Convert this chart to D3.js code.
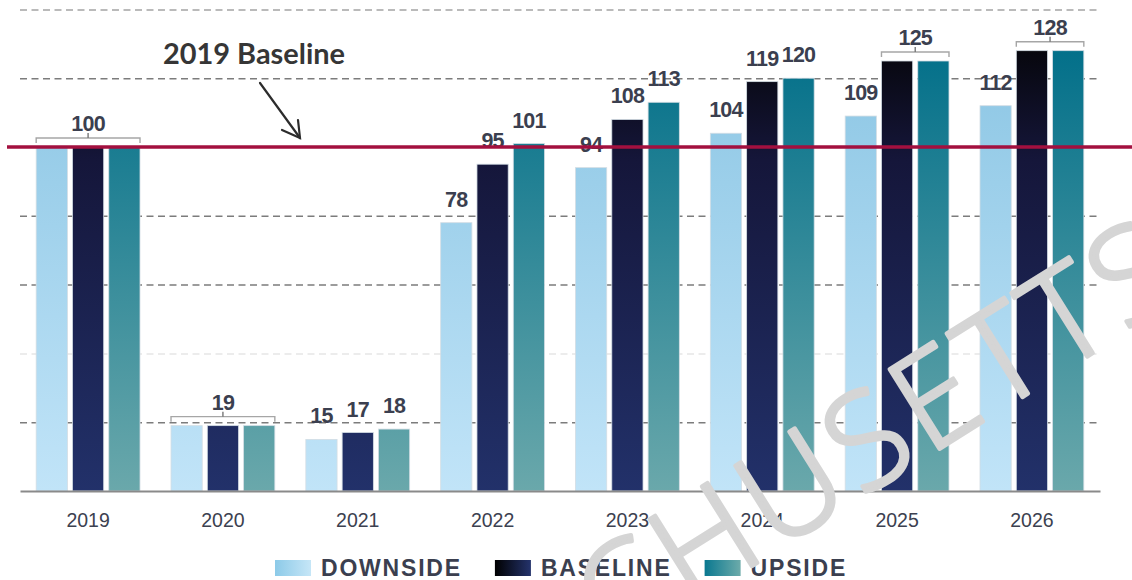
<!DOCTYPE html>
<html>
<head>
<meta charset="utf-8">
<script src="https://cdn.jsdelivr.net/npm/d3@7"></script>
<style>
  html, body { margin: 0; padding: 0; background: #fff; }
  svg { display: block; }
</style>
</head>
<body>
<div id="chart"></div>
<script>
// values (index 2019 = 100)
var years = ['2019', '2020', '2021', '2022', '2023', '2024', '2025', '2026'];
var downside = [100, 19, 15, 78, 94, 104, 109, 112];
var baseline = [100, 19, 17, 95, 108, 119, 125, 128];
var upside = [100, 19, 18, 101, 113, 120, 125, 128];
var seriesNames = ['DOWNSIDE', 'BASELINE', 'UPSIDE'];
var gridTicks = [20, 40, 60, 80, 120, 140];
var refValue = 100;
var refLabel = '2019 Baseline';
var watermark = 'MASSACHUSETTS';

var width = 1132,
    height = 580;

var svg = d3.select('#chart').append('svg')
  .attr('width', width)
  .attr('height', height);

var x = d3.scaleBand()
  .domain(years)
  .range([20, 1100])
  .paddingInner(0.23)
  .paddingOuter(0.12);

var xs = d3.scaleBand()
  .domain(seriesNames)
  .range([0, x.bandwidth()])
  .paddingInner(0.14);

var y = d3.scaleLinear()
  .domain([0, 140])
  .range([491, 9.4]);

var seriesData = [downside, baseline, upside];

// gradients: bars share one vertical gradient in page space
var defs = svg.append('defs');
var barStops = [
  [['0', '#8cc6e4'], ['1', '#c1e4f8']],
  [['0', '#07070e'], ['0.25', '#15163a'], ['1', '#22316a']],
  [['0', '#03708a'], ['1', '#6aa8ab']]
];
var legendStops = [
  [['0', '#8ccae8'], ['1', '#c6e6f7']],
  [['0', '#000000'], ['1', '#24336c']],
  [['0', '#0a7890'], ['1', '#6dabaa']]
];
barStops.forEach(function(stops, i) {
  var g = defs.append('linearGradient')
    .attr('id', 'bar' + i)
    .attr('gradientUnits', 'userSpaceOnUse')
    .attr('x1', 0).attr('x2', 0)
    .attr('y1', y(128)).attr('y2', y(0));
  stops.forEach(function(s) {
    g.append('stop').attr('offset', s[0]).attr('stop-color', s[1]);
  });
});
legendStops.forEach(function(stops, i) {
  var g = defs.append('linearGradient')
    .attr('id', 'leg' + i)
    .attr('x1', 0).attr('x2', 1)
    .attr('y1', 0).attr('y2', 0);
  stops.forEach(function(s) {
    g.append('stop').attr('offset', s[0]).attr('stop-color', s[1]);
  });
});

// dashed grid
var grid = svg.append('g')
  .attr('transform', 'translate(20,0)')
  .call(d3.axisLeft(y)
    .tickValues(gridTicks)
    .tickSize(-(1097 - 20))
    .tickFormat(''));
grid.select('.domain').remove();
grid.selectAll('.tick line')
  .attr('stroke', function(d) {
    if (d === 140) return '#a4a4a4';
    if (d === 40) return '#e6e6e6';
    return '#7c7c7c';
  })
  .attr('stroke-width', 1.5)
  .attr('stroke-dasharray', '7,4.5');

// bars
var groups = svg.append('g').selectAll('g')
  .data(years)
  .enter().append('g')
  .attr('transform', function(d) { return 'translate(' + x(d) + ',0)'; });

groups.selectAll('rect')
  .data(function(d, i) {
    return seriesNames.map(function(s, k) {
      return {series: s, k: k, value: seriesData[k][i]};
    });
  })
  .enter().append('rect')
  .attr('x', function(d) { return xs(d.series); })
  .attr('width', xs.bandwidth())
  .attr('y', function(d) { return y(d.value); })
  .attr('height', function(d) { return y(0) - y(d.value); })
  .attr('fill', function(d) { return 'url(#bar' + d.k + ')'; })
  .attr('stroke', '#d3dde4')
  .attr('stroke-width', 0.8);

// x axis
var xAxis = svg.append('g')
  .attr('transform', 'translate(0,' + y(0) + ')')
  .call(d3.axisBottom(x).tickSize(0).tickSizeOuter(0).tickPadding(22));
xAxis.select('.domain')
  .attr('stroke', '#8a8a8a')
  .attr('stroke-width', 2);
xAxis.selectAll('text')
  .attr('font-family', 'Liberation Sans, Arial, sans-serif')
  .attr('font-size', '19.5px')
  .attr('fill', '#3c4150');

// value labels, brackets where values coincide
var labelFont = 'Liberation Sans, Arial, sans-serif';
var labels = svg.append('g');
years.forEach(function(yr, i) {
  var vals = seriesData.map(function(s) { return s[i]; });
  var items = [];
  if (vals[0] === vals[1] && vals[1] === vals[2]) {
    items.push({from: 0, to: 2, value: vals[0]});
  } else if (vals[1] === vals[2]) {
    items.push({from: 0, to: 0, value: vals[0]});
    items.push({from: 1, to: 2, value: vals[1]});
  } else {
    vals.forEach(function(v, k) { items.push({from: k, to: k, value: v}); });
  }
  items.forEach(function(it) {
    var x0 = x(yr) + xs(seriesNames[it.from]);
    var x1 = x(yr) + xs(seriesNames[it.to]) + xs.bandwidth();
    var cx = (x0 + x1) / 2;
    var top = y(it.value);
    var textY = top - 16;
    if (it.from !== it.to) {
      var by = top - 9;
      labels.append('path')
        .attr('d', 'M' + x0 + ',' + (by + 5) + 'V' + by + 'H' + x1 + 'V' + (by + 5))
        .attr('fill', 'none')
        .attr('stroke', '#a6a6a6')
        .attr('stroke-width', 1.4);
      labels.append('path')
        .attr('d', 'M' + cx + ',' + by + 'V' + (by - 5))
        .attr('stroke', '#777')
        .attr('stroke-width', 1.4);
      textY = by - 7;
    }
    labels.append('text')
      .attr('x', cx)
      .attr('y', textY)
      .attr('text-anchor', 'middle')
      .attr('font-family', labelFont)
      .attr('font-weight', 'bold')
      .attr('font-size', '21.5px')
      .attr('letter-spacing', '-0.8px')
      .attr('fill', '#3b3f4f')
      .text(it.value);
  });
});

// 2019 reference line
svg.append('line')
  .attr('x1', 7).attr('x2', width)
  .attr('y1', y(refValue)).attr('y2', y(refValue))
  .attr('stroke', '#a3103f')
  .attr('stroke-width', 3.5);

svg.append('text')
  .attr('x', 163)
  .attr('y', 64)
  .attr('font-family', 'Lato, Open Sans, sans-serif')
  .attr('font-weight', 'bold')
  .attr('font-size', '28.5px')
  .attr('fill', '#363636')
  .attr('textLength', 182)
  .attr('lengthAdjust', 'spacingAndGlyphs')
  .text(refLabel);

var ax = svg.append('g')
  .attr('stroke', '#2c2c2c')
  .attr('stroke-width', 2.2)
  .attr('fill', 'none')
  .attr('stroke-linecap', 'round');
ax.append('path').attr('d', 'M260,83L300,138');
ax.append('path').attr('d', 'M282,130L300,138L298,120');

// legend
var legend = svg.append('g');
var lx = 275;
seriesNames.forEach(function(name, k) {
  legend.append('rect')
    .attr('x', lx).attr('y', 560)
    .attr('width', 36).attr('height', 16)
    .attr('fill', 'url(#leg' + k + ')');
  var t = legend.append('text')
    .attr('x', lx + 46)
    .attr('y', 576)
    .attr('font-family', labelFont)
    .attr('font-weight', 'bold')
    .attr('font-size', '23px')
    .attr('letter-spacing', '1.8px')
    .attr('fill', '#3b3f4f')
    .text(name);
  lx += 46 + t.node().getComputedTextLength() + 33;
});

// faint watermark over everything, placed by the stem of its last "T"
var wm = svg.append('text')
  .attr('font-family', 'Open Sans, Lato, sans-serif')
  .attr('font-weight', 300)
  .attr('font-size', '132px')
  .attr('letter-spacing', '7px')
  .attr('fill', '#d5d5d5')
  .attr('stroke', '#d5d5d5')
  .attr('stroke-width', 4)
  .attr('stroke-linejoin', 'round')
  .text(watermark);
var tIdx = watermark.lastIndexOf('T');
var tStart = wm.node().getStartPositionOfChar(tIdx).x;
var tMid = tStart + (wm.node().getSubStringLength(tIdx, 1) - 7) / 2;
wm.attr('transform', 'translate(1090,355) rotate(-32) translate(' + (-tMid) + ',0)');
</script>
</body>
</html>
